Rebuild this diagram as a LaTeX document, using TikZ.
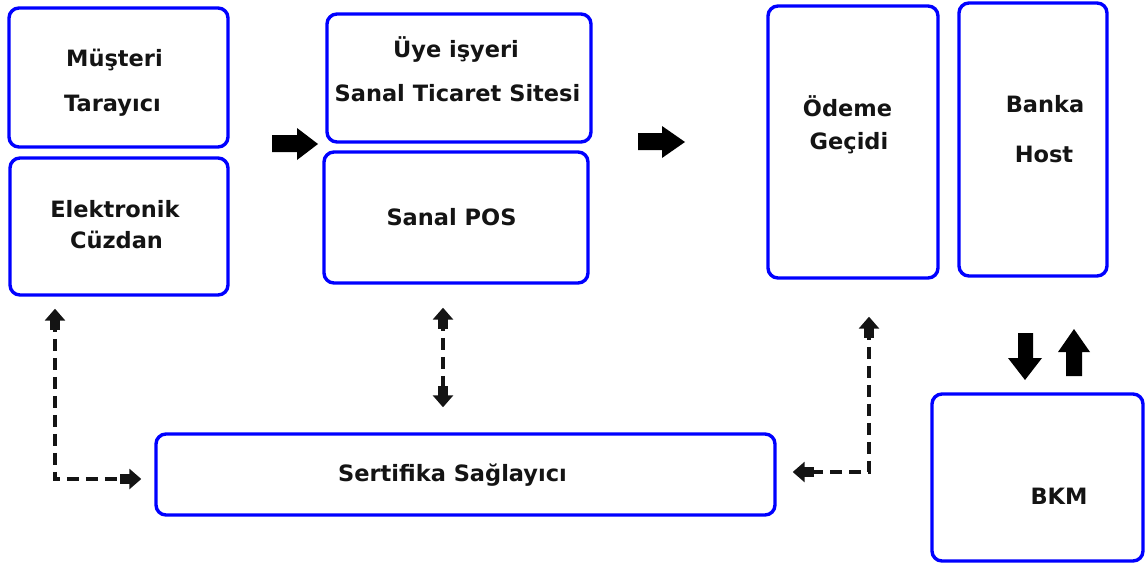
\documentclass[tikz,border=0pt]{standalone}
\usepackage{fontspec}
\setmainfont{DejaVu Sans}
\usetikzlibrary{arrows.meta}
\definecolor{boxblue}{RGB}{0,0,255}
\definecolor{ink}{RGB}{20,20,20}
\tikzset{
  blk/.tip={Rectangle[length=10pt,width=10pt,sep=-1pt]Triangle[length=12pt,width=20pt]},
}
\begin{document}
\begin{tikzpicture}[x=1pt,y=-1pt,
  box/.style={draw=boxblue, line width=3.4pt, rounded corners=10pt, inner sep=0pt, fill=white},
  lbl/.style={font=\bfseries\fontsize{22.5}{26}\selectfont, text=ink, inner sep=0pt, anchor=base},
  dlink/.style={draw=ink, line width=3.4pt, dash pattern=on 12pt off 7pt, {blk}-{blk}},
  bigarrow/.style={fill=black},
]
\useasboundingbox (0,0) rectangle (1146,565);

% boxes
\node[box, minimum width=219pt, minimum height=139pt] (mt)  at (118.5,77.5) {};
\node[box, minimum width=218pt, minimum height=137pt] (ec)  at (119,226.5) {};
\node[box, minimum width=264pt, minimum height=128pt] (uye) at (459,78) {};
\node[box, minimum width=264pt, minimum height=131pt] (pos) at (456,217.5) {};
\node[box, minimum width=170pt, minimum height=272pt] (og)  at (853,142) {};
\node[box, minimum width=148pt, minimum height=273pt] (bh)  at (1033,139.5) {};
\node[box, minimum width=211pt, minimum height=167pt] (bkm) at (1037.5,477.5) {};
\node[box, minimum width=619pt, minimum height=81pt]  (ss)  at (465.5,474.5) {};

% labels
\node[lbl] (mt1)  at (114.5,66)  {Müşteri};
\node[lbl] (mt2)  at (112.5,111) {Tarayıcı};
\node[lbl] (ec1)  at (115,217)   {Elektronik};
\node[lbl] (ec2)  at (116.5,248) {Cüzdan};
\node[lbl] (uye1) at (456,57)    {Üye işyeri};
\node[lbl] (uye2) at (457.5,101) {Sanal Ticaret Sitesi};
\node[lbl] (pos1) at (451.5,225) {Sanal POS};
\node[lbl] (og1)  at (847.5,116) {Ödeme};
\node[lbl] (og2)  at (849,149)   {Geçidi};
\node[lbl] (bh1)  at (1045,112)  {Banka};
\node[lbl] (bh2)  at (1044,162)  {Host};
\node[lbl] (ss1)  at (452.5,481) {Sertifika Sağlayıcı};
\node[lbl] (bkm1) at (1059,504)  {BKM};

% solid block arrows
\fill[bigarrow] (272,135)--(297,135)--(297,128)--(318,144)--(297,160)--(297,152)--(272,152)--cycle;
\fill[bigarrow] (638,133)--(662,133)--(662,126)--(685,142)--(662,158)--(662,150)--(638,150)--cycle;
\fill[bigarrow] (1018,333)--(1033,333)--(1033,358)--(1042,358)--(1025,380)--(1008,358)--(1018,358)--cycle;
\fill[bigarrow] (1066,376)--(1082,376)--(1082,352)--(1090,352)--(1074,329)--(1058,352)--(1066,352)--cycle;

% dashed certificate links
\coordinate (c1) at (55,479);
\coordinate (c2) at (443,300);
\coordinate (c3) at (869,472);
\draw[dlink, shorten <=12pt, shorten >=13pt] (c1 |- ec.south) -- (c1) -- (c1 -| ss.west);
\draw[dlink, shorten <=23pt, shorten >=25pt] (c2 |- pos.south) -- (c2 |- ss.north);
\draw[dlink, shorten <=37pt, shorten >=16pt] (c3 |- og.south) -- (c3) -- (c3 -| ss.east);
\end{tikzpicture}
\end{document}
